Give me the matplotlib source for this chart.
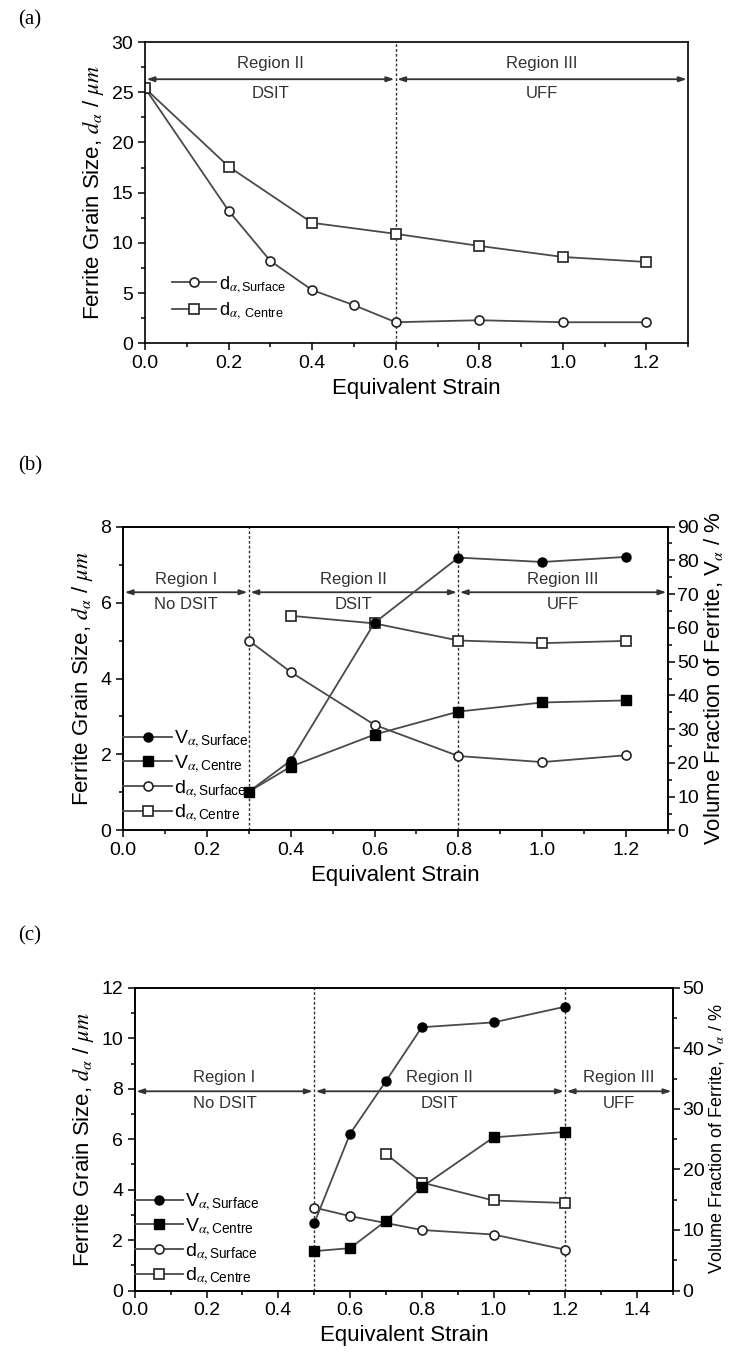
import matplotlib
matplotlib.use("Agg")
import matplotlib.pyplot as plt
from matplotlib.ticker import MultipleLocator

plt.rcParams['font.family'] = ['Liberation Sans', 'DejaVu Sans']
plt.rcParams['mathtext.fontset'] = 'stix'

# ---- panel (a) data
strain_a_surf = [0.0, 0.2, 0.3, 0.4, 0.5, 0.6, 0.8, 1.0, 1.2]
d_surf_a = [25.4, 13.2, 8.2, 5.3, 3.8, 2.1, 2.3, 2.1, 2.1]
strain_a_cent = [0.0, 0.2, 0.4, 0.6, 0.8, 1.0, 1.2]
d_cent_a = [25.4, 17.6, 12.0, 10.9, 9.7, 8.6, 8.1]
bounds_a = [0.0, 0.6, 1.3]
arrow_y_a = 26.3
regions_a = ["Region II", "Region III"]
notes_a = ["DSIT", "UFF"]

# ---- panel (b) data
strain_b_V = [0.3, 0.4, 0.6, 0.8, 1.0, 1.2]
V_surf_b = [11.5, 20.7, 61.5, 80.8, 79.5, 81.0]
V_cent_b = [11.5, 18.9, 28.4, 35.2, 37.9, 38.5]
strain_b_ds = [0.3, 0.4, 0.6, 0.8, 1.0, 1.2]
d_surf_b = [5.0, 4.17, 2.78, 1.96, 1.80, 1.98]
strain_b_dc = [0.4, 0.6, 0.8, 1.0, 1.2]
d_cent_b = [5.65, 5.45, 5.0, 4.93, 4.99]
bounds_b = [0.0, 0.3, 0.8, 1.3]
arrow_y_b = 6.27
regions_b = ["Region I", "Region II", "Region III"]
notes_b = ["No DSIT", "DSIT", "UFF"]

# ---- panel (c) data
strain_c_V = [0.5, 0.6, 0.7, 0.8, 1.0, 1.2]
V_surf_c = [11.1, 25.9, 34.6, 43.5, 44.3, 46.9]
V_cent_c = [6.5, 7.0, 11.5, 17.1, 25.3, 26.2]
strain_c_ds = [0.5, 0.6, 0.8, 1.0, 1.2]
d_surf_c = [3.29, 2.95, 2.40, 2.22, 1.62]
strain_c_dc = [0.7, 0.8, 1.0, 1.2]
d_cent_c = [5.42, 4.28, 3.57, 3.47]
bounds_c = [0.0, 0.5, 1.2, 1.5]
arrow_y_c = 7.9
regions_c = ["Region I", "Region II", "Region III"]
notes_c = ["No DSIT", "DSIT", "UFF"]

LINE = '#4a4a4a'
LBL_D = r'Ferrite Grain Size, $d_\alpha$ / $\mu m$'
LBL_V = r'Volume Fraction of Ferrite, $\mathregular{V}_\alpha$ / %'


def style_axis(ax):  # ticks and spines common to all panels
    ax.tick_params(which='both', direction='out', labelsize=14, width=1.1)
    ax.tick_params(which='major', length=5)
    ax.tick_params(which='minor', length=3)
    for s in ax.spines.values():
        s.set_linewidth(1.2)


def draw_regions(ax, bounds, y, names, notes, name_dy, note_dy, vlines):
    for x in vlines:
        ax.axvline(x, color='#333333', lw=1.0, ls=(0, (2, 1.5)), zorder=1)
    for i in range(len(bounds) - 1):
        ax.annotate('', xy=(bounds[i + 1], y), xytext=(bounds[i], y),
                    arrowprops=dict(arrowstyle='<|-|>,head_length=0.45,head_width=0.15',
                                    color='#333333', lw=1.3, shrinkA=1, shrinkB=1))
        xm = (bounds[i] + bounds[i + 1]) / 2
        ax.text(xm, y + name_dy, names[i], ha='center', va='center', fontsize=12, color='#333333')
        ax.text(xm, y - note_dy, notes[i], ha='center', va='center', fontsize=12, color='#333333')


def open_marker(marker):
    return dict(marker=marker, mfc='white', mec='#222222', mew=1.2, ms=6.5)


def filled_marker(marker):
    return dict(marker=marker, mfc='black', mec='black', ms=6.5)


fig = plt.figure(figsize=(7.29, 13.57), dpi=100)

# ________________________________ (a)
ax = fig.add_axes([0.199, 0.747, 0.745, 0.222])
ax.plot(strain_a_surf, d_surf_a, color=LINE, lw=1.3, label=r'$\mathregular{d}_{\alpha,\mathregular{Surface}}$',
        **open_marker('o'))
ax.plot(strain_a_cent, d_cent_a, color=LINE, lw=1.3, label=r'$\mathregular{d}_{\alpha,\ \mathregular{Centre}}$',
        **open_marker('s'))
draw_regions(ax, bounds_a, arrow_y_a, regions_a, notes_a, 1.6, 1.4, [0.6])
ax.set_xlim(0, 1.3)
ax.set_ylim(0, 30)
ax.xaxis.set_major_locator(MultipleLocator(0.2))
ax.xaxis.set_minor_locator(MultipleLocator(0.1))
ax.yaxis.set_major_locator(MultipleLocator(5))
ax.yaxis.set_minor_locator(MultipleLocator(2.5))
style_axis(ax)
ax.set_xlabel('Equivalent Strain', fontsize=16)
ax.set_ylabel(LBL_D, fontsize=16)
ax.legend(loc='lower left', bbox_to_anchor=(0.02, 0.02), frameon=False, fontsize=13,
          handlelength=2.4, handletextpad=0.2, labelspacing=0.3)
fig.text(0.025, 0.985, '(a)', family='Liberation Serif', fontsize=15, va='center')


def panel_bc(rect, sV, Vs, Vc, sds, ds, sdc, dc, bounds, y, names, notes, vlines,
             xmax, ymax_d, ymax_v, step_v, leg_y, name_dy, note_dy, tag, tag_y, vsize):
    ax = fig.add_axes(rect)
    ax2 = ax.twinx()
    h3, = ax.plot(sds, ds, color=LINE, lw=1.3, label=r'$\mathregular{d}_{\alpha,\mathregular{Surface}}$',
                  **open_marker('o'))
    h4, = ax.plot(sdc, dc, color=LINE, lw=1.3, label=r'$\mathregular{d}_{\alpha,\mathregular{Centre}}$',
                  **open_marker('s'))
    h1, = ax2.plot(sV, Vs, color=LINE, lw=1.3, label=r'$\mathregular{V}_{\alpha,\mathregular{Surface}}$',
                   **filled_marker('o'))
    h2, = ax2.plot(sV, Vc, color=LINE, lw=1.3, label=r'$\mathregular{V}_{\alpha,\mathregular{Centre}}$',
                   **filled_marker('s'))
    draw_regions(ax, bounds, y, names, notes, name_dy, note_dy, vlines)
    ax.set_xlim(0, xmax)
    ax.set_ylim(0, ymax_d)
    ax2.set_ylim(0, ymax_v)
    ax.xaxis.set_major_locator(MultipleLocator(0.2))
    ax.xaxis.set_minor_locator(MultipleLocator(0.1))
    ax.yaxis.set_major_locator(MultipleLocator(2))
    ax.yaxis.set_minor_locator(MultipleLocator(1))
    ax2.yaxis.set_major_locator(MultipleLocator(step_v))
    ax2.yaxis.set_minor_locator(MultipleLocator(step_v / 2))
    style_axis(ax)
    style_axis(ax2)
    ax2.tick_params(axis='y', pad=2)
    ax.set_xlabel('Equivalent Strain', fontsize=16)
    ax.set_ylabel(LBL_D, fontsize=16)
    ax2.set_ylabel(LBL_V, fontsize=vsize, labelpad=2)
    ax2.legend(handles=[h1, h2, h3, h4], loc='lower left', bbox_to_anchor=(0.0, leg_y),
               frameon=False, fontsize=14, handlelength=2.5, handletextpad=0.1,
               labelspacing=0.15, borderpad=0, borderaxespad=0)
    fig.text(0.025, tag_y, tag, family='Liberation Serif', fontsize=15, va='center')


# ________________________________ (b)
panel_bc([0.169, 0.388, 0.747, 0.224], strain_b_V, V_surf_b, V_cent_b,
         strain_b_ds, d_surf_b, strain_b_dc, d_cent_b, bounds_b, arrow_y_b,
         regions_b, notes_b, [0.3, 0.8], 1.3, 8, 90, 10, 0.02, 0.33, 0.32, '(b)', 0.657, 16)

# ________________________________ (c)
panel_bc([0.185, 0.049, 0.738, 0.223], strain_c_V, V_surf_c, V_cent_c,
         strain_c_ds, d_surf_c, strain_c_dc, d_cent_c, bounds_c, arrow_y_c,
         regions_c, notes_c, [0.5, 1.2], 1.5, 12, 50, 10, 0.01, 0.55, 0.5, '(c)', 0.31, 13)

fig.savefig('out.png', dpi=100)
